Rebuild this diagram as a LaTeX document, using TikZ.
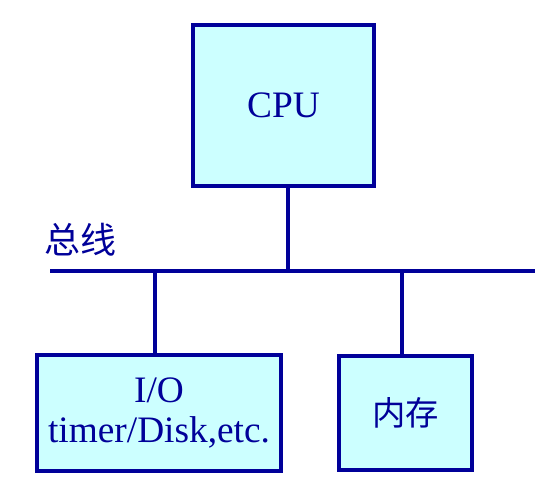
\documentclass[tikz,border=0pt]{standalone}
\usepackage{fontspec}
\setmainfont{Liberation Serif}
\newfontfamily\cjk{Noto Sans CJK SC}
\usetikzlibrary{positioning}
\definecolor{busblue}{HTML}{000099}
\definecolor{boxcyan}{HTML}{CCFFFF}
\tikzset{
  unit/.style={draw=busblue, fill=boxcyan, line width=2.4pt, text=busblue,
    font=\fontsize{28}{31}\selectfont, align=center, inner sep=0pt},
  wire/.style={draw=busblue, line width=2.4pt}
}

\begin{document}
\begin{tikzpicture}[x=0.75pt, y=-0.75pt]
  \useasboundingbox (0,0) rectangle (548,496);
  \node[unit, minimum width=181*0.75pt, minimum height=161*0.75pt] (cpu) at (283.5,105.5) {CPU};
  \node[unit, minimum width=244*0.75pt, minimum height=116*0.75pt] (io) at (159,413) {I/O\\[-1pt]timer/Disk,etc.};
  \node[unit, minimum width=133*0.75pt, minimum height=114*0.75pt, font=\cjk\fontsize{25}{28}\selectfont] (mem) at (405.5,413) {内存};
  \coordinate (busL) at (50,271);
  \coordinate (busR) at (535,271);
  \node[text=busblue, font=\cjk\fontsize{27}{30}\selectfont, anchor=west, inner sep=0pt] (buslabel) at (44,240) {总线};
  % bus and taps
  \draw[wire] (busL) -- (busR);
  \coordinate (tapcpu) at (288,271);
  \coordinate (tapio) at (155,271);
  \coordinate (tapmem) at (402,271);
  \draw[wire] (tapcpu |- cpu.south) -- (tapcpu);
  \draw[wire] (tapio) -- (tapio |- io.north);
  \draw[wire] (tapmem) -- (tapmem |- mem.north);
\end{tikzpicture}
\end{document}
